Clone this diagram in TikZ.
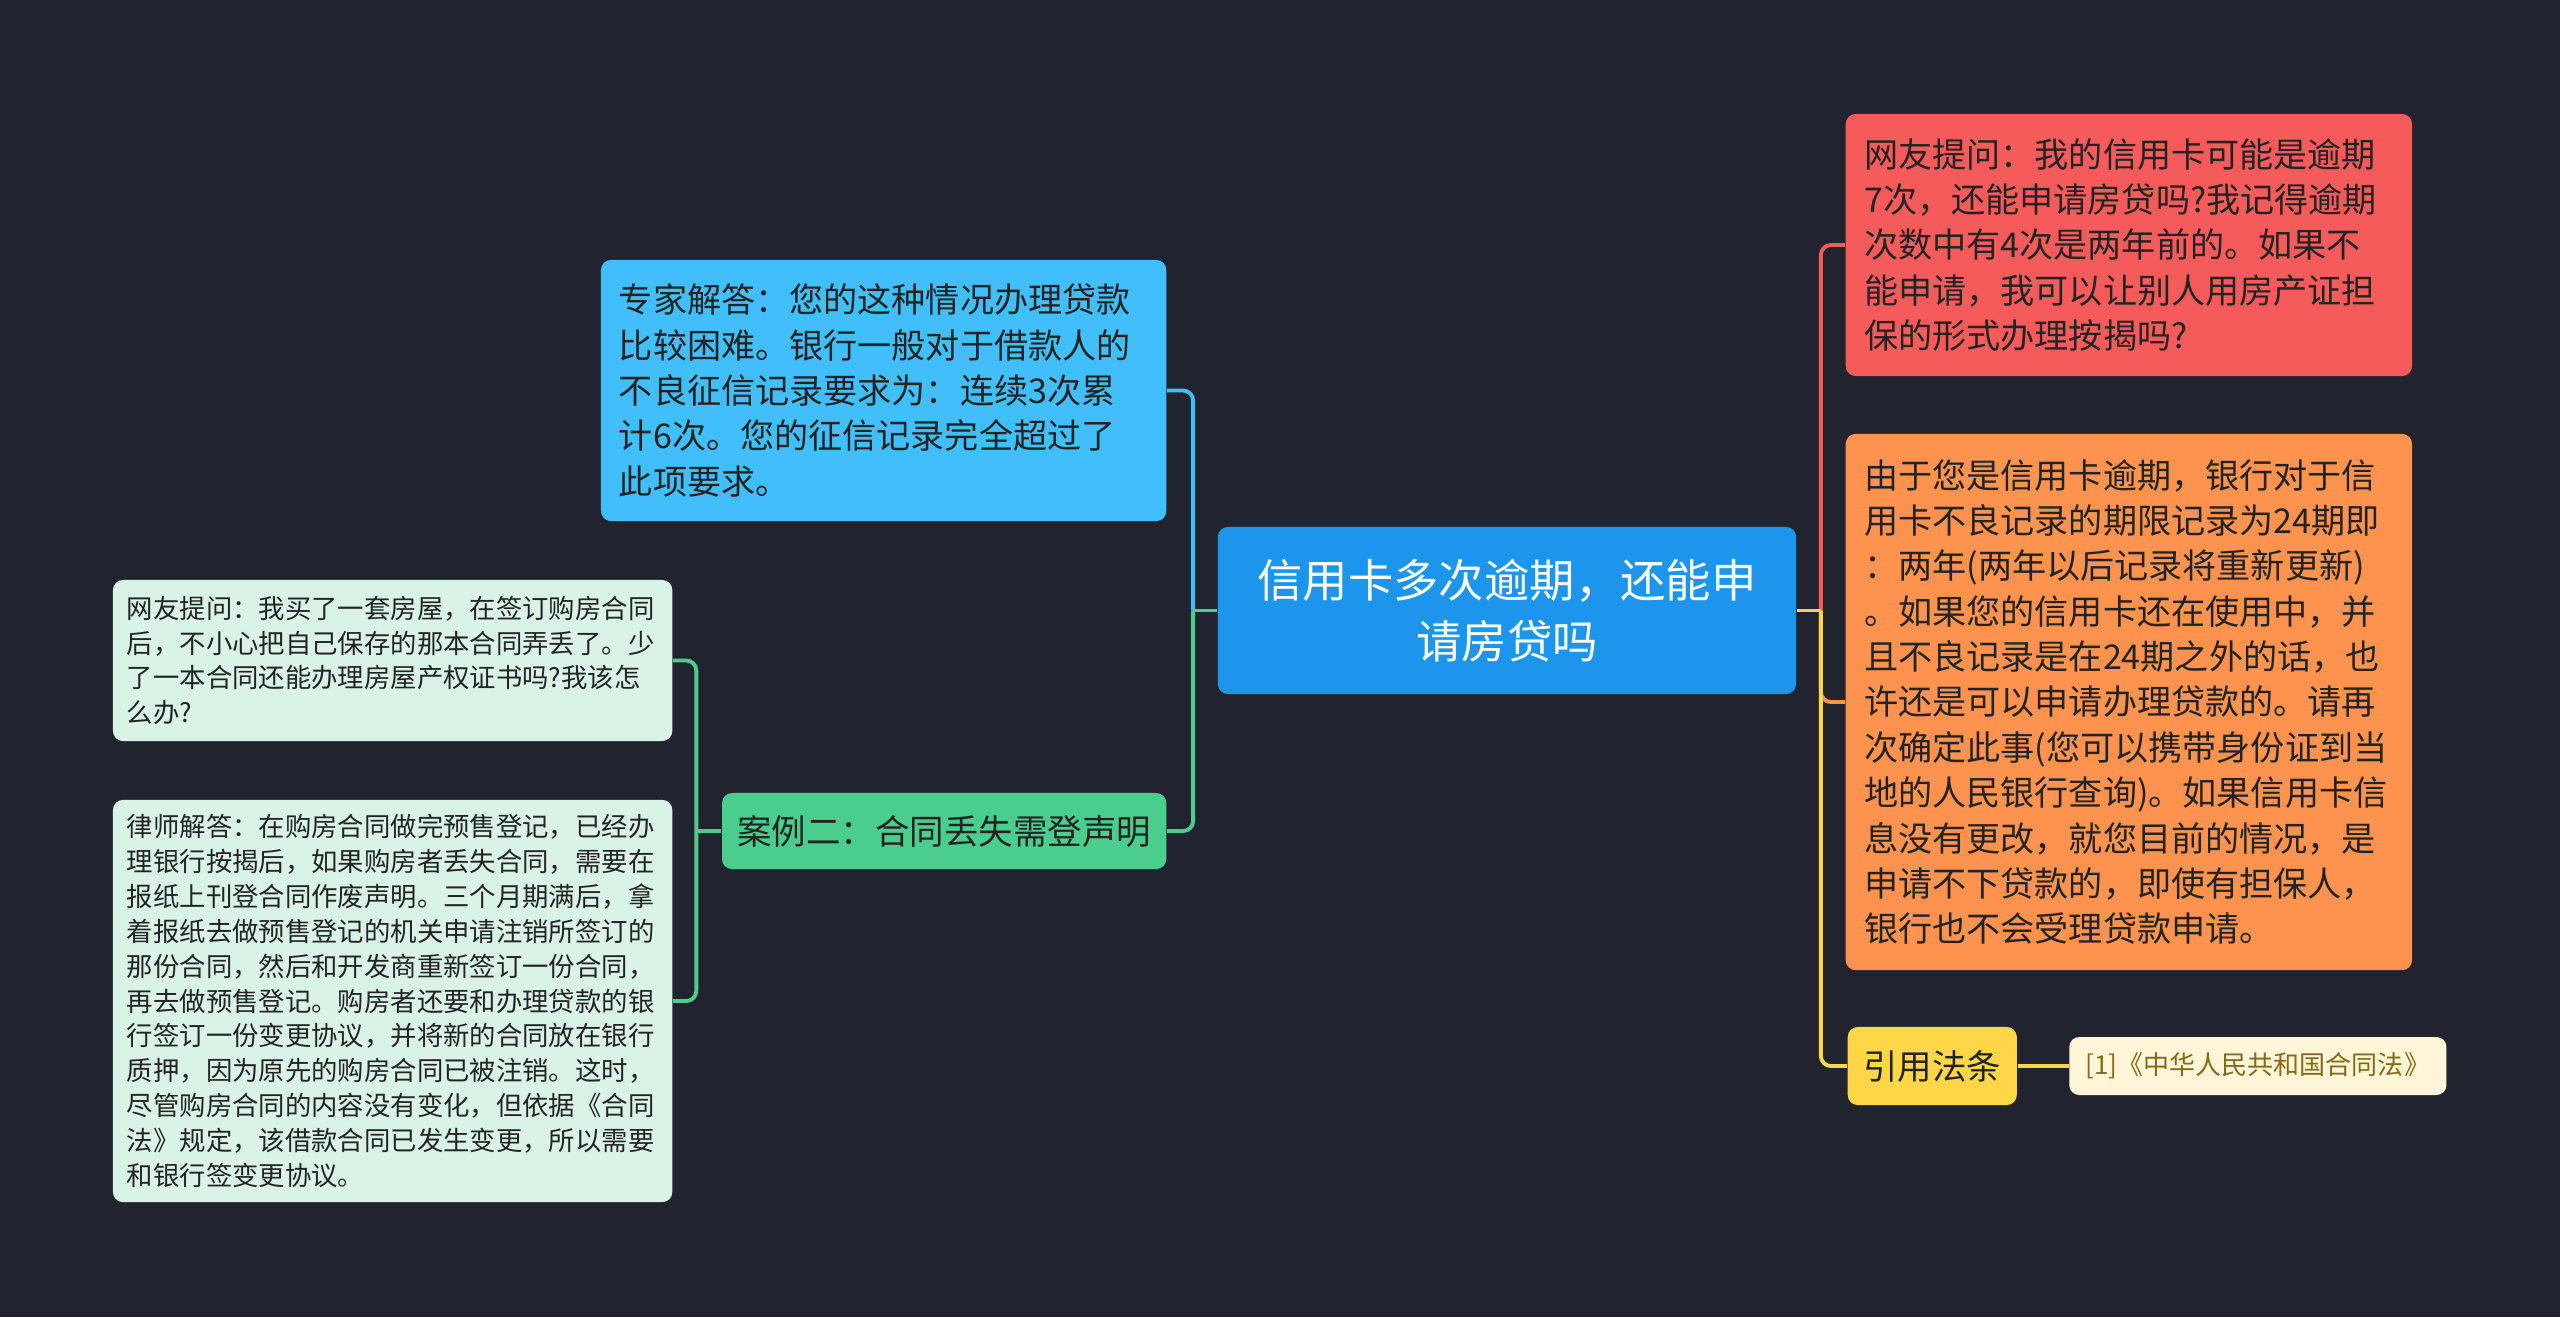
\documentclass[tikz,border=0pt]{standalone}
\usepackage{fontspec}
\setmainfont{Noto Sans CJK SC}
\usetikzlibrary{positioning}

\definecolor{bgdark}{HTML}{21242F}
\definecolor{rootblue}{HTML}{1C95EC}
\definecolor{skyblue}{HTML}{41BFFD}
\definecolor{mintgreen}{HTML}{4BCE8D}
\definecolor{palegreen}{HTML}{D9F4E6}
\definecolor{coralred}{HTML}{F65B5B}
\definecolor{softorange}{HTML}{FE9350}
\definecolor{sunyellow}{HTML}{FFD647}
\definecolor{creamy}{HTML}{FFF6D9}
\definecolor{olivetext}{HTML}{846A12}
\definecolor{inktext}{HTML}{232323}

\begin{document}
\begin{tikzpicture}[
    x=0.01cm, y=-0.01cm,
    box/.style={rounded corners=0.1cm, inner xsep=0.18cm, inner ysep=0pt, text=inktext},
    bigtext/.style={box, align=left, text width=5.29cm, minimum width=5.65cm,
      font=\fontsize{9.7}{12.9}\selectfont},
    smalltext/.style={box, align=left, inner xsep=0.14cm, text width=5.31cm, minimum width=5.59cm,
      fill=palegreen, font=\fontsize{7.5}{9.9}\selectfont},
    topic/.style={box, align=center, inner xsep=0.08cm, font=\fontsize{9.8}{12}\selectfont},
    link/.style={draw=#1, line width=1.1pt},
    bend/.style={link=#1, rounded corners=0.1cm}
  ]
    \fill[bgdark] (0,0) rectangle (2560,1317);
    \useasboundingbox (0,0) rectangle (2560,1317);

    \node[box, fill=rootblue, text=white, align=center, minimum width=5.78cm, minimum height=1.67cm,
      font=\fontsize{12.9}{17.2}\selectfont] (root) at (1507,610.5) {信用卡多次逾期，还能申\\请房贷吗};

    \node[bigtext, fill=skyblue, minimum height=2.61cm, anchor=east] (expert) at (1167,390.5)
      {专家解答：您的这种情况办理贷款\\比较困难。银行一般对于借款人的\\不良征信记录要求为：连续3次累\\计6次。您的征信记录完全超过了\\此项要求。};
    \node[topic, fill=mintgreen, minimum width=4.44cm, minimum height=0.76cm, anchor=east] (case) at (1167,831)
      {案例二：合同丢失需登声明};
    \node[smalltext, minimum height=1.61cm, anchor=east] (ask) at (673,660.5)
      {网友提问：我买了一套房屋，在签订购房合同\\后，不小心把自己保存的那本合同弄丢了。少\\了一本合同还能办理房屋产权证书吗?我该怎\\么办?};
    \node[smalltext, minimum height=4.02cm, anchor=east] (lawyer) at (673,1001)
      {律师解答：在购房合同做完预售登记，已经办\\理银行按揭后，如果购房者丢失合同，需要在\\报纸上刊登合同作废声明。三个月期满后，拿\\着报纸去做预售登记的机关申请注销所签订的\\那份合同，然后和开发商重新签订一份合同，\\再去做预售登记。购房者还要和办理贷款的银\\行签订一份变更协议，并将新的合同放在银行\\质押，因为原先的购房合同已被注销。这时，\\尽管购房合同的内容没有变化，但依据《合同\\法》规定，该借款合同已发生变更，所以需要\\和银行签变更协议。};

    \node[bigtext, fill=coralred, minimum width=5.66cm, minimum height=2.62cm, anchor=west] (question) at (1845,245)
      {网友提问：我的信用卡可能是逾期\\7次，还能申请房贷吗?我记得逾期\\次数中有4次是两年前的。如果不\\能申请，我可以让别人用房产证担\\保的形式办理按揭吗?};
    \node[bigtext, fill=softorange, minimum width=5.66cm, minimum height=5.36cm, anchor=west] (answer) at (1845,702)
      {由于您是信用卡逾期，银行对于信\\用卡不良记录的期限记录为24期即\\：两年(两年以后记录将重新更新)\\。如果您的信用卡还在使用中，并\\且不良记录是在24期之外的话，也\\许还是可以申请办理贷款的。请再\\次确定此事(您可以携带身份证到当\\地的人民银行查询)。如果信用卡信\\息没有更改，就您目前的情况，是\\申请不下贷款的，即使有担保人，\\银行也不会受理贷款申请。};
    \node[topic, fill=sunyellow, minimum width=1.69cm, minimum height=0.78cm, anchor=west] (law) at (1847,1066) {引用法条};
    \node[box, fill=creamy, text=olivetext, inner xsep=0.1cm, minimum width=3.77cm, minimum height=0.58cm,
      font=\fontsize{7.4}{9}\selectfont, right=0.51cm of law] (statute) {[1]《中华人民共和国合同法》};

    \coordinate (lj) at ([xshift=-0.24cm]root.west);
    \coordinate (rj) at ([xshift=0.24cm]root.east);
    \coordinate (cj) at ([xshift=-0.25cm]case.west);

    \draw[bend=skyblue] (lj) |- (expert.east);
    \draw[bend=mintgreen] (lj) |- (case.east);
    \draw[link=mintgreen] (root.west) -- (lj);
    \draw[bend=mintgreen] (cj) |- (ask.east);
    \draw[bend=mintgreen] (cj) |- (lawyer.east);
    \draw[link=mintgreen] (case.west) -- (cj);

    \draw[bend=coralred] (rj) |- (question.west);
    \draw[bend=softorange] (rj) |- (answer.west);
    \draw[bend=sunyellow] (rj) |- (law.west);
    \draw[link=sunyellow] (root.east) -- (rj);
    \draw[link=sunyellow] (law) -- (statute);
\end{tikzpicture}
\end{document}
